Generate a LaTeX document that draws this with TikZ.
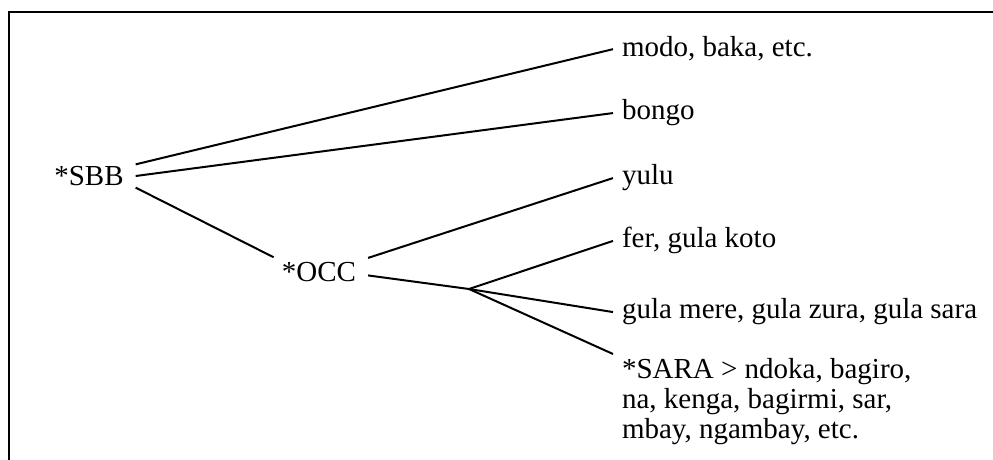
\documentclass[tikz,border=0pt]{standalone}
\usepackage{fontspec}
\setmainfont{Liberation Serif}

\begin{document}
\begin{tikzpicture}[x=0.5pt,y=-0.5pt,line width=1pt,font={\fontsize{14.5}{15}\selectfont}]
	\tikzstyle{proto}=[inner xsep=5.5pt,inner ysep=2pt]
	\tikzstyle{lang}=[inner xsep=4pt,inner ysep=1.5pt,align=left]

	\useasboundingbox (0,0) rectangle (993,460);
	\draw[line width=1.4pt] (993,12) -- (9,12) -- (9,460);

	\node[proto] (SBB) at (89,176) {*SBB};
	\node[proto] (OCC) at (319,272) {*OCC};
	\coordinate (J) at (469,289);

	\node[lang,anchor=base west] (modo) at (613,57) {modo, baka, etc.};
	\node[lang,anchor=base west] (bongo) at (613,120) {bongo};
	\node[lang,anchor=base west] (yulu) at (613,185) {yulu};
	\node[lang,anchor=base west] (fer) at (613,248) {fer, gula koto};
	\node[lang,anchor=base west] (gula) at (613,319) {gula mere, gula zura, gula sara};
	\node[lang,anchor=north west] (sara) at (613,354) {*SARA > ndoka, bagiro,\\na, kenga, bagirmi, sar,\\mbay, ngambay, etc.};

	\path (SBB.14) edge (modo.west);
	\path (SBB.east) edge (bongo.west);
	\path (SBB.-14) edge (OCC.162);
	\path (OCC.16) edge (yulu.west);
	\path (OCC.-4) edge (J);
	\path (J) edge (fer.west);
	\path (J) edge (gula.west);
	\path (J) edge (sara.north west);
\end{tikzpicture}
\end{document}
